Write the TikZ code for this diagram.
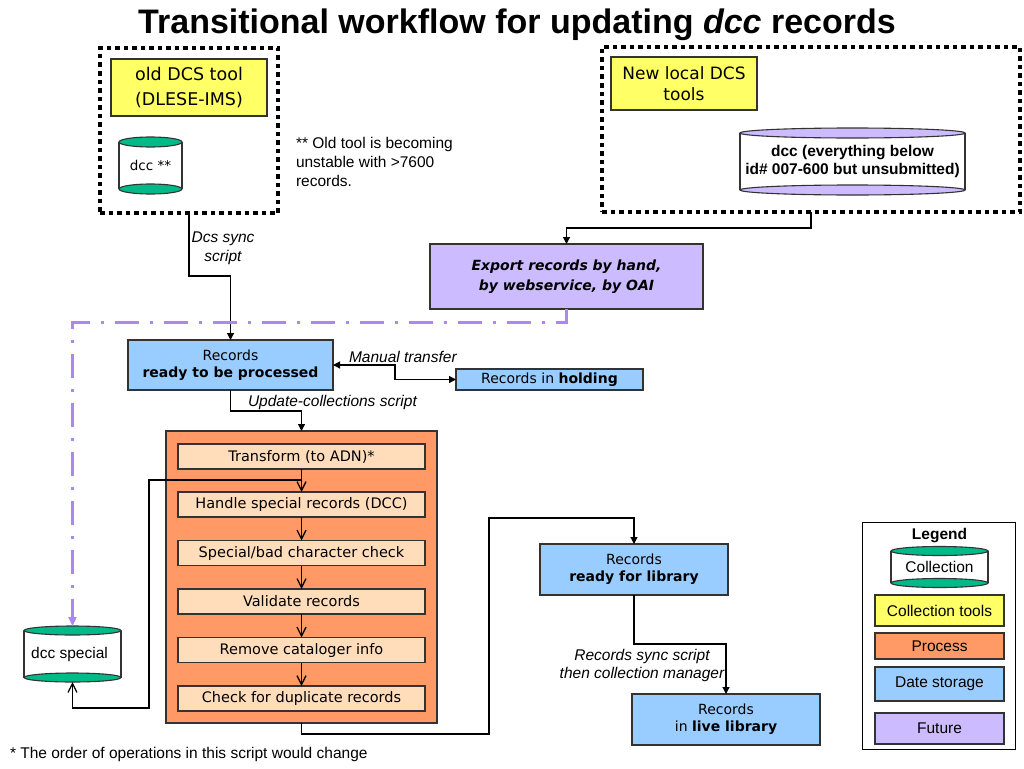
\documentclass[tikz,border=0pt]{standalone}
\usepackage{fontspec}
\setmainfont{Liberation Sans}
\newfontfamily\verd{DejaVu Sans}
\usetikzlibrary{arrows.meta,backgrounds,calc}
\definecolor{cyel}{HTML}{FFFF66}
\definecolor{cblue}{HTML}{99CCFF}
\definecolor{corange}{HTML}{FF9966}
\definecolor{cpeach}{HTML}{FFDDBB}
\definecolor{clav}{HTML}{CCBBFF}
\definecolor{cteal}{HTML}{00BB88}
\definecolor{cfuture}{HTML}{AA88EE}
\definecolor{cline}{HTML}{333333}
\newcommand\cylshape[4]{%
  \begin{pgfonlayer}{background}
  \fill[white] ([yshift=-#4pt]#1.north west) rectangle ([yshift=#4pt]#1.south east);
  \draw[cylline] ([yshift=-#4pt]#1.north west) -- ([yshift=#4pt]#1.south west);
  \draw[cylline] ([yshift=-#4pt]#1.north east) -- ([yshift=#4pt]#1.south east);
  \draw[cylline, fill=#2] ([yshift=#4pt]#1.south) ellipse [x radius=#3pt, y radius=#4pt];
  \draw[cylline, fill=#2] ([yshift=-#4pt]#1.north) ellipse [x radius=#3pt, y radius=#4pt];
  \end{pgfonlayer}}
\begin{document}
\begin{tikzpicture}[x=1pt,y=-1pt,
  every node/.style={inner sep=0pt, outer sep=0pt},
  cylline/.style={draw=cline, line width=1.1pt},
  boxline/.style={draw=cline, line width=1.1pt},
  vbox/.style={boxline, align=center, font=\verd\fontsize{14}{17}\selectfont},
  tools/.style={vbox, fill=cyel},
  store/.style={vbox, fill=cblue},
  stepbox/.style={vbox, fill=cpeach, minimum width=247pt, minimum height=25pt,
    font=\verd\fontsize{14.5}{17}\selectfont},
  cylnode/.style={align=center},
  dotbox/.style={draw=black, line width=4.5pt, dash pattern=on 4.5pt off 4pt},
  arial/.style={font=\fontsize{15.5}{19}\selectfont},
  lbl/.style={align=center, font=\fontsize{15.5}{19}\selectfont\itshape},
  conn/.style={draw=black, line width=1.2pt, -{Triangle[length=7pt,width=7pt]}},
  flow/.style={draw=black, line width=1.3pt, -{Straight Barb[length=9pt,width=9pt]}},
  future/.style={draw=cfuture, line width=3pt, dash pattern=on 24pt off 11pt on 3pt off 11pt,
    -{Triangle[length=9pt,width=8pt]}},
  legbox/.style={boxline, font=\fontsize{15.5}{19}\selectfont, minimum width=129pt, align=center}
]
\useasboundingbox (0,0) rectangle (1024,768);

% title
\node[font=\bfseries\fontsize{34}{40}\selectfont] (title) at (517,25)
  {Transitional workflow for updating \textit{dcc} records};

% old tool group
\node[dotbox, minimum width=178pt, minimum height=165pt] (oldbox) at (189,130.5) {};
\node[tools, font=\verd\fontsize{17.5}{25}\selectfont, minimum width=156pt, minimum height=57pt]
  (oldtool) at (189,87.5) {old DCS tool\\(DLESE-IMS)};
\node[cylnode, font=\verd\fontsize{13.5}{17}\selectfont, minimum width=63pt, minimum height=57pt]
  (dccold) at (150.5,165.5) {dcc **};
\cylshape{dccold}{cteal}{31.5}{5}
\node[arial, align=left, anchor=north west] (note) at (296,137)
  {** Old tool is becoming\\unstable with >7600\\records.};

% new tools group
\node[dotbox, minimum width=418pt, minimum height=165pt] (newbox) at (811,129.5) {};
\node[tools, font=\verd\fontsize{17}{21}\selectfont, minimum width=146pt, minimum height=53pt]
  (newtool) at (684,83.5) {New local DCS\\tools};
\node[cylnode, font=\bfseries\fontsize{15.5}{18}\selectfont, minimum width=225pt, minimum height=67pt]
  (dccnew) at (852.5,161.5) {dcc (everything below\\id\# 007-600 but unsubmitted)};
\cylshape{dccnew}{clav}{112.5}{5}

% export
\node[vbox, fill=clav, font=\verd\bfseries\itshape\fontsize{14}{20}\selectfont,
  minimum width=273pt, minimum height=65pt] (export) at (566.5,276.5)
  {Export records by hand,\\by webservice, by OAI};

% storage boxes
\node[store, minimum width=205pt, minimum height=50pt] (ready) at (230.5,365)
  {Records\\\textbf{ready to be processed}};
\node[store, minimum width=187pt, minimum height=21pt] (holding) at (549.5,379.5)
  {Records in \textbf{holding}};
\node[store, minimum width=188pt, minimum height=51pt] (readylib) at (634,569.5)
  {Records\\\textbf{ready for library}};
\node[store, minimum width=188pt, minimum height=51pt] (live) at (726,719.5)
  {Records\\in \textbf{live library}};

% process
\node[boxline, fill=corange, minimum width=271pt, minimum height=292pt] (process) at (301.5,577) {};
\node[stepbox] (s1) at (301.5,456.5) {Transform (to ADN)*};
\node[stepbox] (s2) at (301.5,504.5) {Handle special records (DCC)};
\node[stepbox] (s3) at (301.5,553) {Special/bad character check};
\node[stepbox] (s4) at (301.5,601.5) {Validate records};
\node[stepbox] (s5) at (301.5,650) {Remove cataloger info};
\node[stepbox] (s6) at (301.5,698.5) {Check for duplicate records};

% dcc special
\node[cylnode, arial, minimum width=97pt, minimum height=56pt] (dccsp) at (72.5,654)
  {\hspace*{-6pt}dcc special};
\cylshape{dccsp}{cteal}{48.5}{4.5}

% connectors
\draw[conn] (oldbox.south) -- ++(0,63) -| (ready.north);
\node[lbl] (lsync) at (223,248.5) {Dcs sync\\script};
\draw[conn] (newbox.south) -- ++(0,16) -| (export.north);
\draw[future] (export.south) -- ++(0,13.5) -| (dccsp.north);
\draw[conn] (ready.south) -- ++(0,21) -| (process.north);
\node[lbl, anchor=west] (lupd) at (248,402) {Update-collections script};
\draw[draw=black, line width=1.2pt, {Triangle[length=7pt,width=7pt]}-{Triangle[length=7pt,width=7pt]}]
  (ready.east) -- ++(62,0) |- (holding.west);
\node[lbl, anchor=west] (lman) at (349,357) {Manual transfer};
\draw[flow] (s1) -- (s2);
\draw[flow] (s2) -- (s3);
\draw[flow] (s3) -- (s4);
\draw[flow] (s4) -- (s5);
\draw[flow] (s5) -- (s6);
\draw[flow] ([yshift=-11pt]s1.south) -| ++(-152.5,228) -| (dccsp.south);
\draw[conn] (process.south) -- ++(0,11) -| ++(187.5,-216) -| (readylib.north);
\draw[conn] (readylib.south) -- ++(0,49) -| (live.north);
\node[lbl, font=\fontsize{15.5}{18}\selectfont\itshape] (lrsync) at (642,665)
  {Records sync script\\then collection manager};

% footnote
\node[arial, anchor=west] (foot) at (10,754) {* The order of operations in this script would change};

% legend
\node[draw=black, line width=1pt, minimum width=153pt, minimum height=227pt] (legend) at (939,635.5) {};
\node[font=\bfseries\fontsize{15.5}{19}\selectfont] (legtitle) at (939.5,536) {Legend};
\node[cylnode, arial, minimum width=97pt, minimum height=41pt] (legcyl) at (939.5,567) {Collection};
\cylshape{legcyl}{cteal}{48.5}{4.5}
\node[legbox, fill=cyel, minimum height=31pt] (legtools) at (939.5,610.5) {Collection tools};
\node[legbox, fill=corange, minimum height=26pt] (legproc) at (939.5,646) {Process};
\node[legbox, fill=cblue, minimum height=34pt] (legdata) at (939.5,684) {Date storage};
\node[legbox, fill=clav, minimum height=31pt] (legfut) at (939.5,728.5) {Future};
\end{tikzpicture}
\end{document}
